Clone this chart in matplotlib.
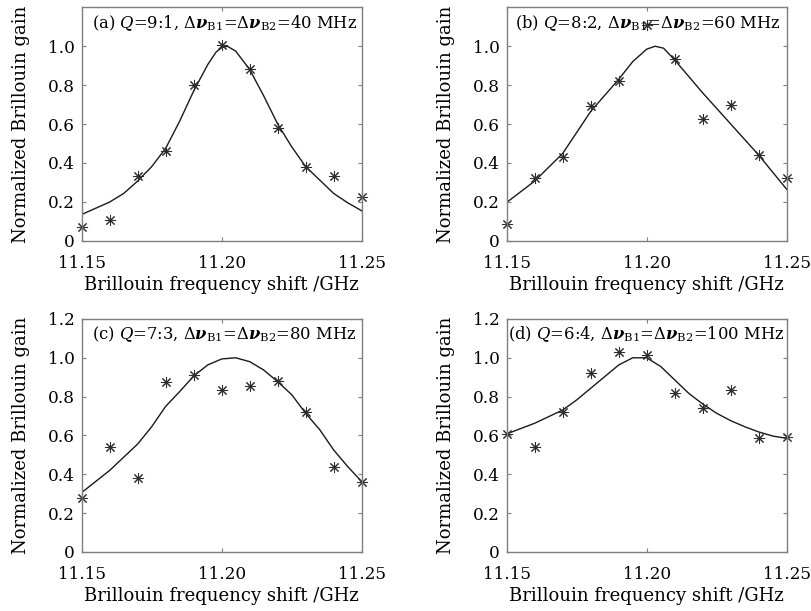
import matplotlib
matplotlib.use("Agg")
import matplotlib.pyplot as plt

# measured points (same frequency grid in every panel)
FREQ = [11.15, 11.16, 11.17, 11.18, 11.19, 11.20, 11.21, 11.22, 11.23, 11.24, 11.25]

MEAS_A = [0.07, 0.106, 0.333, 0.463, 0.80, 1.006, 0.883, 0.578, 0.377, 0.333, 0.223]
MEAS_B = [0.086, 0.324, 0.432, 0.694, 0.821, 1.109, 0.933, 0.624, 0.696, 0.439, 0.324]
MEAS_C = [0.276, 0.542, 0.379, 0.874, 0.913, 0.834, 0.855, 0.881, 0.721, 0.44, 0.362]
MEAS_D = [0.608, 0.542, 0.723, 0.92, 1.032, 1.015, 0.82, 0.74, 0.834, 0.589, 0.594]

# fitted curves
FIT_X_A = [11.15, 11.16, 11.165, 11.17, 11.175, 11.18, 11.185, 11.19, 11.195, 11.198,
           11.20, 11.202, 11.205, 11.21, 11.215, 11.22, 11.225, 11.23, 11.235, 11.24,
           11.245, 11.25]
FIT_Y_A = [0.135, 0.199, 0.243, 0.307, 0.381, 0.475, 0.615, 0.77, 0.905, 0.97,
           0.993, 1.0, 0.975, 0.88, 0.745, 0.6, 0.483, 0.381, 0.312, 0.243,
           0.195, 0.154]

FIT_X_B = [11.15, 11.16, 11.17, 11.18, 11.19, 11.195, 11.20, 11.203, 11.206, 11.21,
           11.22, 11.23, 11.24, 11.25]
FIT_Y_B = [0.197, 0.307, 0.449, 0.665, 0.83, 0.921, 0.985, 1.0, 0.99, 0.929,
           0.76, 0.60, 0.44, 0.264]

FIT_X_C = [11.15, 11.16, 11.17, 11.175, 11.18, 11.185, 11.19, 11.195, 11.20, 11.205,
           11.21, 11.215, 11.22, 11.225, 11.23, 11.235, 11.24, 11.245, 11.25]
FIT_Y_C = [0.306, 0.42, 0.556, 0.645, 0.75, 0.826, 0.906, 0.963, 0.994, 1.0,
           0.98, 0.937, 0.877, 0.81, 0.714, 0.63, 0.525, 0.44, 0.362]

FIT_X_D = [11.15, 11.16, 11.17, 11.175, 11.18, 11.185, 11.19, 11.195, 11.20, 11.205,
           11.21, 11.215, 11.22, 11.225, 11.23, 11.235, 11.24, 11.245, 11.25]
FIT_Y_D = [0.608, 0.663, 0.731, 0.783, 0.843, 0.903, 0.963, 1.0, 1.0, 0.955,
           0.886, 0.817, 0.762, 0.714, 0.676, 0.645, 0.618, 0.597, 0.585]

TITLES = [
    r"(a) $Q$=9:1, $\Delta\mathbfit{\nu}_\mathrm{B1}$=$\Delta\mathbfit{\nu}_\mathrm{B2}$=40 MHz",
    r"(b) $Q$=8:2, $\Delta\mathbfit{\nu}_\mathrm{B1}$=$\Delta\mathbfit{\nu}_\mathrm{B2}$=60 MHz",
    r"(c) $Q$=7:3, $\Delta\mathbfit{\nu}_\mathrm{B1}$=$\Delta\mathbfit{\nu}_\mathrm{B2}$=80 MHz",
    r"(d) $Q$=6:4, $\Delta\mathbfit{\nu}_\mathrm{B1}$=$\Delta\mathbfit{\nu}_\mathrm{B2}$=100 MHz",
]
XTICKS = [11.15, 11.20, 11.25]
XTICK_LABELS = ["11.15", "11.20", "11.25"]

FRAME = "#7f7f7f"
INK = "#1a1a1a"

plt.rcParams["font.family"] = "DejaVu Serif"
plt.rcParams["mathtext.fontset"] = "dejavuserif"

fig = plt.figure(figsize=(8.11, 6.11), dpi=100)

# [left, bottom, width, height] in figure fractions
boxes = [
    [0.1007, 0.606, 0.3453, 0.382],
    [0.6248, 0.606, 0.3453, 0.382],
    [0.1007, 0.0966, 0.3453, 0.3814],
    [0.6248, 0.0966, 0.3453, 0.3814],
]
panels = [
    (MEAS_A, FIT_X_A, FIT_Y_A),
    (MEAS_B, FIT_X_B, FIT_Y_B),
    (MEAS_C, FIT_X_C, FIT_Y_C),
    (MEAS_D, FIT_X_D, FIT_Y_D),
]
title_x = [0.036, 0.03, 0.036, 0.005]

for i, (box, (meas, fx, fy)) in enumerate(zip(boxes, panels)):
    ax = fig.add_axes(box)
    ax.plot(fx, fy, color=INK, linewidth=1.0)
    ax.plot(FREQ, meas, linestyle="none", marker=(8, 2, 0), markersize=8,
            color="#2e2e2e", markeredgewidth=0.75, clip_on=False)

    ax.set_xlim(11.15, 11.25)
    ax.set_ylim(0, 1.2)
    ax.set_xticks(XTICKS)
    ax.set_xticklabels(XTICK_LABELS)
    if i < 2:
        yt = [0, 0.2, 0.4, 0.6, 0.8, 1.0]
    else:
        yt = [0, 0.2, 0.4, 0.6, 0.8, 1.0, 1.2]
    ax.set_yticks(yt)
    ax.set_yticklabels(["0"] + [f"{v:.1f}" for v in yt[1:]])

    ax.tick_params(direction="in", top=True, right=True, length=3,
                   color=FRAME, labelsize=12.2, labelcolor="black")
    ax.tick_params(axis="x", pad=10)
    ax.tick_params(axis="y", pad=5)
    for spine in ax.spines.values():
        spine.set_color(FRAME)
        spine.set_linewidth(1.0)

    ax.set_xlabel("Brillouin frequency shift /GHz", fontsize=13, labelpad=3)
    ax.set_ylabel("Normalized Brillouin gain", fontsize=13, labelpad=13)

    ax.text(title_x[i], 0.975, TITLES[i], transform=ax.transAxes,
            ha="left", va="top", fontsize=11.8)

fig.savefig("out.png", dpi=100)
